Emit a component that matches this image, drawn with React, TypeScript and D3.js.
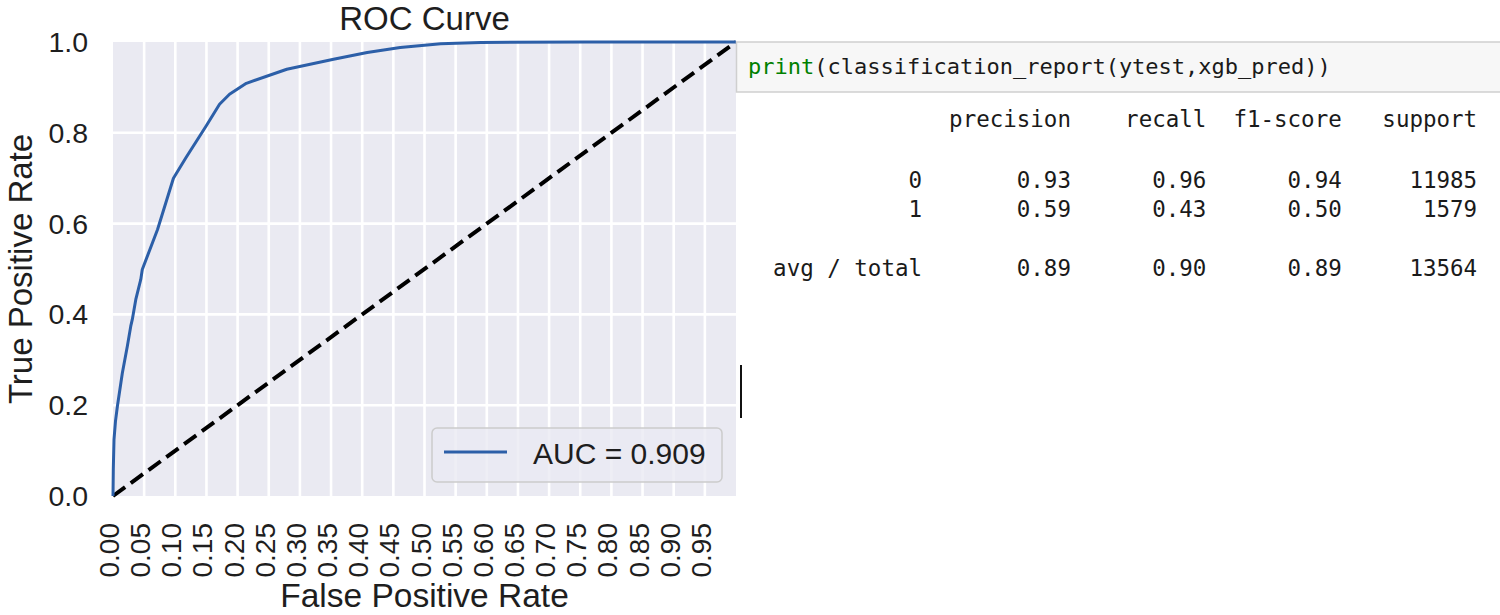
import React from "react";
import * as d3 from "d3";

const fprValues = [0, 0.0005, 0.0016, 0.004, 0.007, 0.015, 0.023, 0.0285, 0.031, 0.0366, 0.0446, 0.047, 0.0715, 0.097, 0.117, 0.1495, 0.171, 0.187, 0.214, 0.279, 0.354, 0.408, 0.461, 0.526, 0.59, 0.757, 1.0];
const tprValues = [0, 0.06, 0.124, 0.165, 0.197, 0.271, 0.33, 0.374, 0.389, 0.433, 0.477, 0.499, 0.587, 0.7, 0.745, 0.815, 0.863, 0.885, 0.909, 0.94, 0.962, 0.977, 0.988, 0.996, 0.999, 1.0, 1.0];
const xTicks = d3.range(0, 20).map((i) => i * 0.05);
const yTicks = [0, 0.2, 0.4, 0.6, 0.8, 1.0];
const aucLabel = "AUC = 0.909";

const codeLine = "classification_report(ytest,xgb_pred))";
const reportHeaders = ["precision", "recall", "f1-score", "support"];
const reportLabels = ["0", "1", "avg / total"];
const precisionVals = ["0.93", "0.59", "0.89"];
const recallVals = ["0.96", "0.43", "0.90"];
const f1Vals = ["0.94", "0.50", "0.89"];
const supportVals = ["11985", "1579", "13564"];

const SANS = "'Liberation Sans', Arial, sans-serif";
const MONO = "'DejaVu Sans Mono', 'Liberation Mono', monospace";

export default function App() {
  const x = d3.scaleLinear().domain([0, 1]).range([113, 736]);
  const y = d3.scaleLinear().domain([0, 1]).range([496, 42]);
  const pts: [number, number][] = fprValues.map((f, i) => [f, tprValues[i]]);
  const line = d3.line<[number, number]>().x((d) => x(d[0])).y((d) => y(d[1]));
  const diag = line([[0, 0], [1, 1]]) as string;

  // table geometry (monospace columns)
  const cw = 13.54;
  const labelRight = 922;
  const colRights = [labelRight + 11 * cw, labelRight + 21 * cw, labelRight + 31 * cw, labelRight + 41 * cw];
  const rowY = [188, 217, 276];
  const cols = [precisionVals, recallVals, f1Vals, supportVals];
  const tableFont = cw / 0.602;

  return (
    <div>
      <style>{`body{margin:0;background:#fff}`}</style>
      <svg width={1500} height={615} style={{ display: "block" }}>
        <rect x={0} y={0} width={1500} height={615} fill="#ffffff" />
        {/* axes background */}
        <rect x={x(0)} y={y(1)} width={x(1) - x(0)} height={y(0) - y(1)} fill="#EAEAF2" />
        {/* grid */}
        {xTicks.filter((t) => t > 0).map((t) => (
          <line key={"gx" + t} x1={x(t)} x2={x(t)} y1={y(0)} y2={y(1)} stroke="#ffffff" strokeWidth={2.6} />
        ))}
        {yTicks.filter((t) => t > 0 && t < 1).map((t) => (
          <line key={"gy" + t} x1={x(0)} x2={x(1)} y1={y(t)} y2={y(t)} stroke="#ffffff" strokeWidth={2.6} />
        ))}
        {/* diagonal */}
        <path d={diag} fill="none" stroke="#000" strokeWidth={4} strokeDasharray="15 7" />
        {/* ROC curve */}
        <path d={line(pts) as string} fill="none" stroke="#2c5fa8" strokeWidth={3} strokeLinejoin="round" />
        {/* y tick labels */}
        {yTicks.map((t) => (
          <text key={"yl" + t} x={88} y={y(t)} textAnchor="end" dominantBaseline="central" fontFamily={SANS} fontSize={28.5} fill="#1e1e1e">
            {t.toFixed(1)}
          </text>
        ))}
        {/* x tick labels */}
        {xTicks.map((t) => (
          <text key={"xl" + t} transform={`translate(${x(t) - 3.5},523) rotate(-90)`} textAnchor="end" dominantBaseline="central" fontFamily={SANS} fontSize={28} fill="#1e1e1e">
            {t.toFixed(2)}
          </text>
        ))}
        {/* titles */}
        <text x={(x(0) + x(1)) / 2} y={30} textAnchor="middle" fontFamily={SANS} fontSize={33} fill="#1e1e1e">ROC Curve</text>
        <text x={(x(0) + x(1)) / 2} y={607} textAnchor="middle" fontFamily={SANS} fontSize={33.5} fill="#1e1e1e">False Positive Rate</text>
        <text transform={`translate(32,${(y(0) + y(1)) / 2}) rotate(-90)`} textAnchor="middle" fontFamily={SANS} fontSize={33} fill="#1e1e1e">True Positive Rate</text>
        {/* legend */}
        <rect x={432} y={428} width={290} height={54} rx={5} fill="#EAEAF2" fillOpacity={0.8} stroke="#cccccc" strokeWidth={1.5} />
        <line x1={444} x2={507} y1={452} y2={452} stroke="#2c5fa8" strokeWidth={3} />
        <text x={533} y={464} fontFamily={SANS} fontSize={30} fill="#1e1e1e">{aucLabel}</text>
        {/* cursor */}
        <line x1={741} x2={741} y1={365} y2={418} stroke="#111" strokeWidth={2} />
        {/* code cell */}
        <rect x={736.5} y={42} width={770} height={50} fill="#f7f7f7" stroke="#cfcfcf" strokeWidth={1.5} />
        <text x={748} y={74} fontFamily={MONO} fontSize={22} fill="#1a1a1a">
          <tspan fill="#008000">print</tspan>
          <tspan>(</tspan>
          <tspan>{codeLine}</tspan>
        </text>
        {/* report header */}
        {reportHeaders.map((h, i) => (
          <text key={"h" + h} x={colRights[i]} y={127} textAnchor="end" fontFamily={MONO} fontSize={tableFont} fill="#1a1a1a">{h}</text>
        ))}
        {reportLabels.map((lab, r) => (
          <g key={"r" + lab}>
            <text x={labelRight} y={rowY[r]} textAnchor="end" fontFamily={MONO} fontSize={tableFont} fill="#1a1a1a">{lab}</text>
            {cols.map((c, ci) => (
              <text key={ci} x={colRights[ci]} y={rowY[r]} textAnchor="end" fontFamily={MONO} fontSize={tableFont} fill="#1a1a1a">{c[r]}</text>
            ))}
          </g>
        ))}
      </svg>
    </div>
  );
}
